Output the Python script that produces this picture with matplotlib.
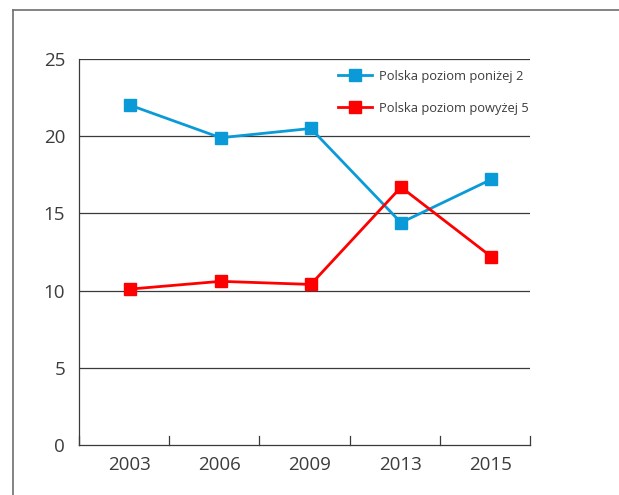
import matplotlib
matplotlib.use("Agg")
import matplotlib.pyplot as plt
from matplotlib.lines import Line2D

years = ["2003", "2006", "2009", "2013", "2015"]
below2 = [22.0, 19.9, 20.5, 14.4, 17.2]
above5 = [10.1, 10.6, 10.4, 16.7, 12.2]
yticks = [0, 5, 10, 15, 20, 25]
label_below = "Polska poziom poniżej 2"
label_above = "Polska poziom powyżej 5"

plt.rcParams['font.family'] = ['Open Sans', 'DejaVu Sans']

W, H = 619, 495
fig = plt.figure(figsize=(W/100, H/100), dpi=100)
fig.patch.set_facecolor('white')

# outer frame (top and left)
fig.add_artist(Line2D([13/W, 1], [1-10/H, 1-10/H], color='#6e6e6e', lw=1.2, transform=fig.transFigure))
fig.add_artist(Line2D([13/W, 13/W], [0, 1-10/H], color='#6e6e6e', lw=1.2, transform=fig.transFigure))

l, r, t, b = 79, 530, 59, 445
ax = fig.add_axes([l/W, 1-b/H, (r-l)/W, (b-t)/H])

x = [i + 0.07 for i in range(len(years))]
blue = '#0a9ad8'
red = '#ff0000'
ax.plot(x, below2, color=blue, lw=2, marker='s', ms=8.5, label=label_below, zorder=3)
ax.plot(x, above5, color=red, lw=2, marker='s', ms=8.5, label=label_above, zorder=3)

ax.set_xlim(-0.5, len(years) - 0.5)
ax.set_ylim(0, 25)
ax.set_yticks(yticks)
ax.set_yticklabels([str(v) for v in yticks], fontsize=13.5, color='#3c3c3c')
for v in yticks[1:]:
    ax.axhline(v, color='#3a3a3a', lw=0.9, zorder=1)

ax.set_xticks([i + 0.06 for i in range(len(years))])
ax.set_xticklabels(years, fontsize=13.5, color='#3c3c3c')
ax.tick_params(axis='x', length=0, pad=8)
ax.tick_params(axis='y', length=0, pad=10)
# boundary ticks pointing upward
for i in range(len(years) + 1):
    ax.plot([i - 0.5, i - 0.5], [0, 0.6], color='#3a3a3a', lw=0.9, clip_on=False, zorder=2)

for s in ['top', 'right']:
    ax.spines[s].set_visible(False)
ax.spines['left'].set_color('#3a3a3a')
ax.spines['bottom'].set_color('#3a3a3a')
ax.spines['left'].set_linewidth(0.9)
ax.spines['bottom'].set_linewidth(0.9)

leg = ax.legend(loc='upper left', bbox_to_anchor=((338-l)/(r-l), 1 - (70-t)/(b-t)),
                frameon=False, fontsize=9.3, handlelength=2.6, labelspacing=1.45,
                handletextpad=0.55, borderaxespad=0, borderpad=0)
for txt in leg.get_texts():
    txt.set_color('#3c3c3c')

fig.savefig('out.png', dpi=100, facecolor='white')
